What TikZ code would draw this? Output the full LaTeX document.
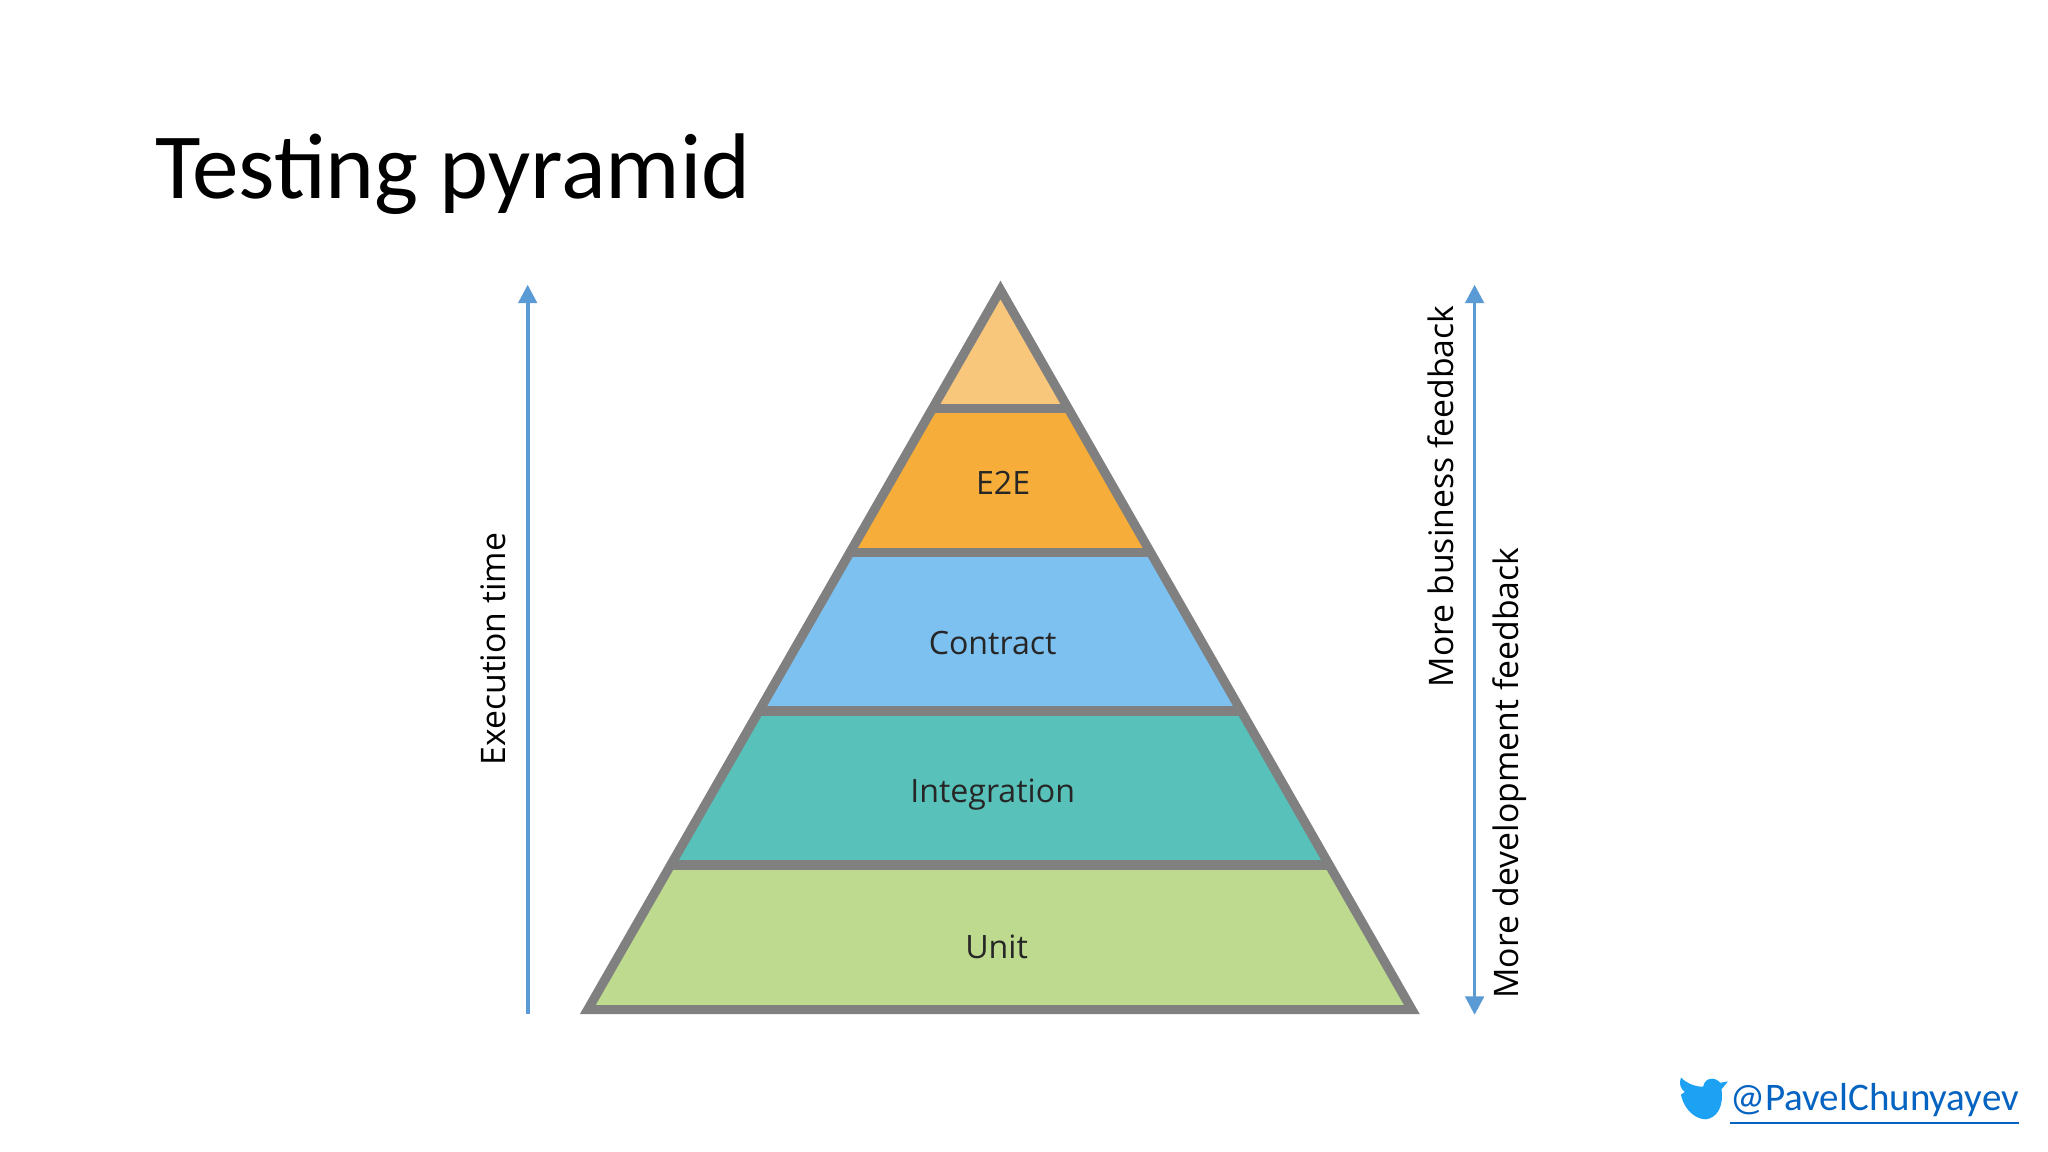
\documentclass[tikz,border=0pt]{standalone}
\usepackage{fontspec}
\setmainfont{Carlito}
\newfontfamily\lab{Open Sans}
\usetikzlibrary{calc,arrows.meta}
\definecolor{tipc}{HTML}{F9C77C}
\definecolor{e2ec}{HTML}{F6AD3A}
\definecolor{conc}{HTML}{7DC1F1}
\definecolor{intc}{HTML}{57C1BA}
\definecolor{unic}{HTML}{BEDA8E}
\definecolor{edge}{HTML}{808080}
\definecolor{arr}{HTML}{5B9BD5}
\definecolor{tw}{HTML}{1DA1F2}
\definecolor{lnk}{HTML}{0563C1}
\tikzset{bandlabel/.style={font=\lab\fontsize{7pt}{9pt}\selectfont, text=black!85},
 sidelabel/.style={font=\lab\fontsize{7.35pt}{9pt}\selectfont, rotate=90},
 axisline/.style={draw=arr, line width=0.8pt, -{Triangle[length=4pt,width=4pt]}}}
\begin{document}
\begin{tikzpicture}[x=0.01cm,y=-0.01cm]
\useasboundingbox (0,0) rectangle (1568,882);
\fill[white] (0,0) rectangle (1568,882);
\node[anchor=base west, font=\fontsize{20.3pt}{24pt}\selectfont, inner sep=0] (title) at (118,152) {Testing pyramid};
\coordinate (A) at (766,222);
\coordinate (L) at (450,773);
\coordinate (R) at (1081,773);
\foreach \n/\t in {a/0.165,b/0.365,c/0.585,d/0.799}{
  \coordinate (l\n) at ($(A)!\t!(L)$);
  \coordinate (r\n) at ($(A)!\t!(R)$);
}
\fill[tipc] (A) -- (ra) -- (la) -- cycle;
\fill[e2ec] (la) -- (ra) -- (rb) -- (lb) -- cycle;
\fill[conc] (lb) -- (rb) -- (rc) -- (lc) -- cycle;
\fill[intc] (lc) -- (rc) -- (rd) -- (ld) -- cycle;
\fill[unic] (ld) -- (rd) -- (R) -- (L) -- cycle;
\draw[edge, line width=2pt, line join=miter] (A) -- (R) -- (L) -- cycle;
\foreach \n in {a,b,c,d}{ \draw[edge, line width=2pt] (l\n) -- (r\n); }
\node[bandlabel] (e2e) at (768,370) {E2E};
\node[bandlabel] (con) at (760,492) {Contract};
\node[bandlabel] (int) at (760,608) {Integration};
\node[bandlabel] (uni) at (763,725) {Unit};
\coordinate (lb0) at (404,776);
\coordinate (lt0) at (404,218);
\draw[axisline] (lb0) -- (lt0);
\node[sidelabel] (ex) at (378,497) {Execution time};
\coordinate (rt0) at (1129,218);
\coordinate (rb0) at (1129,777);
\draw[axisline, {Triangle[length=4pt,width=4pt]}-{Triangle[length=4pt,width=4pt]}] (rb0) -- (rt0);
\node[sidelabel] (bus) at (1103,380) {More business feedback};
\node[sidelabel] (dev) at (1156,592) {More development feedback};
% twitter bird
\fill[tw] (1287,838) .. controls (1290,852) and (1300,857) .. (1306,857)
  .. controls (1314,856) and (1320,848) .. (1318,834)
  -- (1323,828) -- (1317,829) .. controls (1313,824) and (1305,825) .. (1304,832)
  .. controls (1297,832) and (1291,829) .. (1287,825)
  .. controls (1285,830) and (1287,834) .. (1290,836) -- cycle;
\node[anchor=base west, text=lnk, font=\fontsize{8.5pt}{10pt}\selectfont, inner sep=0] (tw) at (1324,850) {\underline{@PavelChunyayev}};
\end{tikzpicture}
\end{document}
